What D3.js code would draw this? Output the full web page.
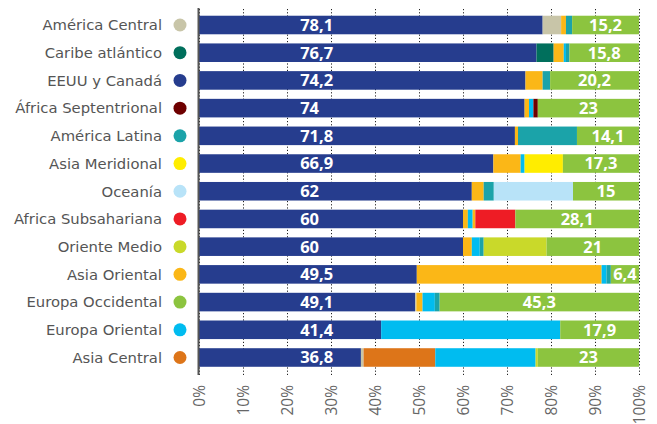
<!DOCTYPE html>
<html>
<head>
<meta charset="utf-8">
<script src="https://cdn.jsdelivr.net/npm/d3@7"></script>
<style>
  body { margin: 0; background: #fff; }
  .region-label { font-family: "DejaVu Sans", sans-serif; font-size: 14.8px; font-weight: 400; fill: #555; }
  .value-label { font-family: "Open Sans", sans-serif; font-size: 16.5px; font-weight: 700; fill: #fff; }
  .tick-label text { font-family: "Open Sans", sans-serif; font-size: 15.5px; font-weight: 400; fill: #666; }
</style>
</head>
<body>
<svg id="chart"></svg>
<script>
// regions, top to bottom
const regions = [
  "América Central", "Caribe atlántico", "EEUU y Canadá", "África Septentrional",
  "América Latina", "Asia Meridional", "Oceanía", "Africa Subsahariana",
  "Oriente Medio", "Asia Oriental", "Europa Occidental", "Europa Oriental", "Asia Central"
];

const regionColors = [
  "#c8c5a8", "#006f5c", "#263d8e", "#6e0000",
  "#1ba3a9", "#ffed00", "#b8e3f8", "#ee1c25",
  "#c9d92a", "#fbb717", "#8cc43f", "#00bcf0", "#dd7519"
];

// each row: [region of origin, share %]
const shares = [
  [["EEUU y Canadá", 78.1], ["América Central", 4.2], ["Asia Oriental", 1.1], ["América Latina", 1.4], ["Europa Occidental", 15.2]],
  [["EEUU y Canadá", 76.7], ["Caribe atlántico", 3.9], ["Asia Oriental", 2.3], ["Europa Oriental", 0.5], ["América Latina", 0.8], ["Europa Occidental", 15.8]],
  [["EEUU y Canadá", 74.2], ["Asia Oriental", 3.9], ["América Latina", 1.7], ["Europa Occidental", 20.2]],
  [["EEUU y Canadá", 74], ["Asia Oriental", 1], ["Europa Oriental", 1], ["África Septentrional", 1], ["Europa Occidental", 23]],
  [["EEUU y Canadá", 71.8], ["Asia Oriental", 0.7], ["América Latina", 13.4], ["Europa Occidental", 14.1]],
  [["EEUU y Canadá", 66.9], ["Asia Oriental", 6.2], ["Europa Oriental", 0.9], ["Asia Meridional", 8.7], ["Europa Occidental", 17.3]],
  [["EEUU y Canadá", 62], ["Asia Oriental", 2.7], ["América Latina", 2.3], ["Oceanía", 18], ["Europa Occidental", 15]],
  [["EEUU y Canadá", 60], ["Asia Oriental", 1.1], ["Europa Oriental", 1.1], ["Asia Oriental", 0.6], ["Africa Subsahariana", 9.1], ["Europa Occidental", 28.1]],
  [["EEUU y Canadá", 60], ["Asia Oriental", 2], ["Europa Oriental", 1.8], ["América Latina", 0.9], ["Oriente Medio", 14.3], ["Europa Occidental", 21]],
  [["EEUU y Canadá", 49.5], ["Asia Oriental", 42], ["Europa Oriental", 1.1], ["América Latina", 1], ["Europa Occidental", 6.4]],
  [["EEUU y Canadá", 49.1], ["América Central", 0.3], ["Asia Oriental", 1.4], ["Europa Oriental", 2.8], ["América Latina", 1.1], ["Europa Occidental", 45.3]],
  [["EEUU y Canadá", 41.4], ["Europa Oriental", 40.7], ["Europa Occidental", 17.9]],
  [["EEUU y Canadá", 36.8], ["América Central", 0.6], ["Asia Central", 16.3], ["Europa Oriental", 22.8], ["Oriente Medio", 0.5], ["Europa Occidental", 23]]
];

const tickValues = [0, 10, 20, 30, 40, 50, 60, 70, 80, 90, 100];

const width = 657, height = 424;
const gridTop = 8, gridBottom = 375;

const svg = d3.select("#chart").attr("width", width).attr("height", height);

const color = d3.scaleOrdinal().domain(regions).range(regionColors);

const x = d3.scaleLinear().domain([0, 100]).range([199, 639]);
const y = d3.scaleBand().domain(regions).range([11.15, 371.35])
  .paddingInner(0.33).paddingOuter(0.165);

// dotted gridlines
const grid = svg.append("g")
  .attr("transform", `translate(0,${gridBottom})`)
  .call(d3.axisBottom(x).tickValues(tickValues).tickSize(-(gridBottom - gridTop)).tickFormat(""))
  .call(g => g.select(".domain").remove());
grid.selectAll(".tick line")
  .attr("stroke", "#222")
  .attr("stroke-width", 1)
  .attr("stroke-dasharray", "1.2,2");

// stacked bars
const rows = svg.append("g").selectAll("g.row")
  .data(regions.map((r, i) => {
    let acc = 0;
    const segs = shares[i].map(([src, v]) => {
      const s = { src, v, x0: acc, x1: acc + v };
      acc += v;
      return s;
    });
    return { region: r, segs };
  }))
  .join("g")
  .attr("class", "row");

rows.selectAll("rect")
  .data(d => d.segs.map(s => ({ ...s, region: d.region })))
  .join("rect")
  .attr("x", d => x(d.x0))
  .attr("width", d => Math.max(0, x(d.x1) - x(d.x0)))
  .attr("y", d => y(d.region))
  .attr("height", y.bandwidth())
  .attr("fill", d => color(d.src));

// first value (EEUU y Canadá)
rows.append("text")
  .attr("class", "value-label")
  .attr("x", x(23))
  .attr("y", d => y(d.region) + y.bandwidth() / 2)
  .attr("dy", "0.36em")
  .text(d => String(d.segs[0].v).replace(".", ","));

// last value (Europa Occidental), centred in its segment
rows.append("text")
  .attr("class", "value-label")
  .attr("text-anchor", "middle")
  .attr("x", d => {
    const s = d.segs[d.segs.length - 1];
    return (x(s.x0) + x(s.x1)) / 2;
  })
  .attr("y", d => y(d.region) + y.bandwidth() / 2)
  .attr("dy", "0.36em")
  .text(d => String(d.segs[d.segs.length - 1].v).replace(".", ","));

// region labels with colour dots
svg.append("g").selectAll("text")
  .data(regions)
  .join("text")
  .attr("class", "region-label")
  .attr("x", 162)
  .attr("y", d => y(d) + y.bandwidth() / 2)
  .attr("dy", "0.36em")
  .attr("text-anchor", "end")
  .text(d => d);

svg.append("g").selectAll("circle")
  .data(regions)
  .join("circle")
  .attr("cx", 180)
  .attr("cy", d => y(d) + y.bandwidth() / 2)
  .attr("r", 6.5)
  .attr("fill", d => color(d));

// left axis line
svg.append("line")
  .attr("x1", x(0) - 0.5).attr("x2", x(0) - 0.5)
  .attr("y1", gridTop).attr("y2", gridBottom)
  .attr("stroke", "#555")
  .attr("stroke-width", 2);

// rotated tick labels
svg.append("g")
  .attr("class", "tick-label")
  .attr("transform", `translate(0,${gridBottom})`)
  .call(d3.axisBottom(x).tickValues(tickValues).tickSize(0).tickFormat(d => d + "%"))
  .call(g => g.select(".domain").remove())
  .selectAll("text")
  .attr("transform", "rotate(-90)")
  .attr("text-anchor", "end")
  .attr("x", -10)
  .attr("y", 0)
  .attr("dy", "0.35em");
</script>
</body>
</html>
